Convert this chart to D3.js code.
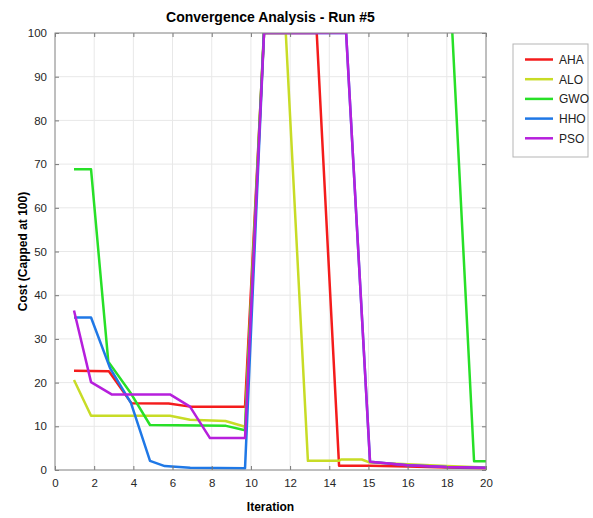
<!DOCTYPE html>
<meta charset="utf-8">
<html>
<head>
<style>
  body { margin: 0; background: #fff; }
  text { font-family: "Liberation Sans", Arial, sans-serif; }
</style>
</head>
<body>
<div id="chart"></div>
<script src="https://cdn.jsdelivr.net/npm/d3@7"></script>
<script>
  // tick labels of the x axis (they are evenly spaced on the axis)
  var xTicks = [0, 2, 4, 6, 8, 10, 12, 14, 15, 16, 18, 20];
  var yTicks = [0, 10, 20, 30, 40, 50, 60, 70, 80, 90, 100];

  var names = ["AHA", "ALO", "GWO", "HHO", "PSO"];
  var colors = ["#f41c1c", "#c8dc26", "#27e027", "#1f78e6", "#b61fdc"];

  // [iteration, cost]
  var aha = [[0.97,22.7],[2.75,22.6],[3.9,15.3],[5.8,15.2],[6.9,14.5],[9.7,14.5],
             [10.67,100],[13.36,100],[14.25,1.0],[15.04,1.0],[16,0.8],[18,0.6],[20,0.4]];
  var alo = [[0.97,20.6],[1.84,12.4],[5.87,12.4],[6.89,11.5],[8.7,11.2],[9.7,9.9],
             [10.67,100],[11.78,100],[12.91,2.1],[14.25,2.1],[14.3,2.4],[14.83,2.4],
             [15.04,1.7],[16,1.3],[18,0.9],[20,0.6]];
  var gwo = [[0.97,68.8],[1.84,68.8],[2.72,24.8],[3.88,17.5],[4.85,10.3],[8.73,10.1],
             [9.7,9.1],[10.67,101],[18.27,101],[19.39,2.0],[20,2.0]];
  var hho = [[0.97,34.9],[1.84,34.9],[2.81,23.3],[3.88,15.3],[4.85,2.1],[5.6,0.9],
             [6.9,0.5],[9.7,0.4],[10.67,100],[14.43,100],[15.04,1.9],[16,1.1],[18,0.7],[20,0.5]];
  var pso = [[0.97,36.5],[1.84,20.1],[2.89,17.3],[5.87,17.3],[6.89,14.5],[7.91,7.3],
             [9.7,7.3],[10.67,100],[14.43,100],[15.04,1.9],[16,1.1],[18,0.7],[20,0.5]];
  var series = [aha, alo, gwo, hho, pso];

  var W = 593, H = 518;
  var margin = {top: 33, right: 107, bottom: 48, left: 55},
      width = W - margin.left - margin.right,
      height = H - margin.top - margin.bottom;

  var svg = d3.select("#chart")
    .append("svg")
      .attr("width", W)
      .attr("height", H);

  var g = svg.append("g")
      .attr("transform", "translate(" + margin.left + "," + margin.top + ")");

  // piecewise scale: every tick label sits at an equal step
  var x = d3.scaleLinear()
    .domain(xTicks)
    .range(xTicks.map(function(d, i) { return i * width / (xTicks.length - 1); }));
  var y = d3.scaleLinear().domain([0, 100]).range([height, 0]);

  // grid
  g.append("g").selectAll("line").data(xTicks).enter().append("line")
    .attr("x1", function(d) { return x(d); }).attr("x2", function(d) { return x(d); })
    .attr("y1", 0).attr("y2", height)
    .attr("stroke", "#e8e8e8");
  g.append("g").selectAll("line").data(yTicks).enter().append("line")
    .attr("y1", function(d) { return y(d); }).attr("y2", function(d) { return y(d); })
    .attr("x1", 0).attr("x2", width)
    .attr("stroke", "#e8e8e8");

  // lines
  svg.append("defs").append("clipPath").attr("id", "clip")
    .append("rect").attr("width", width).attr("height", height);

  var line = d3.line()
    .x(function(d) { return x(d[0]); })
    .y(function(d) { return y(d[1]); });

  g.append("g").attr("clip-path", "url(#clip)")
    .selectAll("path").data(series).enter().append("path")
    .attr("fill", "none")
    .attr("stroke", function(d, i) { return colors[i]; })
    .attr("stroke-width", 2.5)
    .attr("stroke-linejoin", "round")
    .attr("d", line);

  // axes, ticks pointing inward on every side
  function styleAxis(sel) {
    sel.select(".domain").remove();
    sel.selectAll(".tick line").attr("stroke", "#777");
    sel.selectAll(".tick text").attr("fill", "#262626").style("font-size", "11.5px");
  }

  g.append("g")
    .attr("transform", "translate(0," + height + ")")
    .call(d3.axisBottom(x).tickValues(xTicks).tickSizeInner(-4).tickSizeOuter(0).tickPadding(9))
    .call(styleAxis);
  g.append("g")
    .call(d3.axisLeft(y).tickValues(yTicks).tickSizeInner(-4).tickSizeOuter(0).tickPadding(8))
    .call(styleAxis);
  g.append("g")
    .call(d3.axisTop(x).tickValues(xTicks).tickSizeInner(-4).tickSizeOuter(0).tickFormat(""))
    .call(styleAxis);
  g.append("g")
    .attr("transform", "translate(" + width + ",0)")
    .call(d3.axisRight(y).tickValues(yTicks).tickSizeInner(-4).tickSizeOuter(0).tickFormat(""))
    .call(styleAxis);

  g.append("rect")
    .attr("width", width).attr("height", height)
    .attr("fill", "none").attr("stroke", "#8a8a8a");

  // titles
  svg.append("text")
    .attr("x", margin.left + width / 2).attr("y", 22)
    .attr("text-anchor", "middle")
    .style("font-size", "14px").style("font-weight", "bold")
    .text("Convergence Analysis - Run #5");
  svg.append("text")
    .attr("x", margin.left + width / 2).attr("y", 511)
    .attr("text-anchor", "middle")
    .style("font-size", "12px").style("font-weight", "bold")
    .text("Iteration");
  svg.append("text")
    .attr("transform", "translate(27," + (margin.top + height / 2) + ") rotate(-90)")
    .attr("text-anchor", "middle")
    .style("font-size", "12px").style("font-weight", "bold")
    .text("Cost (Capped at 100)");

  // legend
  var legend = svg.append("g").attr("transform", "translate(513,44)");
  legend.append("rect")
    .attr("width", 75).attr("height", 113)
    .attr("fill", "#fff").attr("stroke", "#b5b5b5");
  var item = legend.selectAll(".item").data(names).enter().append("g")
    .attr("transform", function(d, i) { return "translate(0," + (15.5 + i * 19.7) + ")"; });
  item.append("line")
    .attr("x1", 12).attr("x2", 40)
    .attr("stroke", function(d, i) { return colors[i]; })
    .attr("stroke-width", 2.5);
  item.append("text")
    .attr("x", 46).attr("y", 4.5)
    .style("font-size", "12px").attr("fill", "#222")
    .text(function(d) { return d; });
</script>
</body>
</html>
